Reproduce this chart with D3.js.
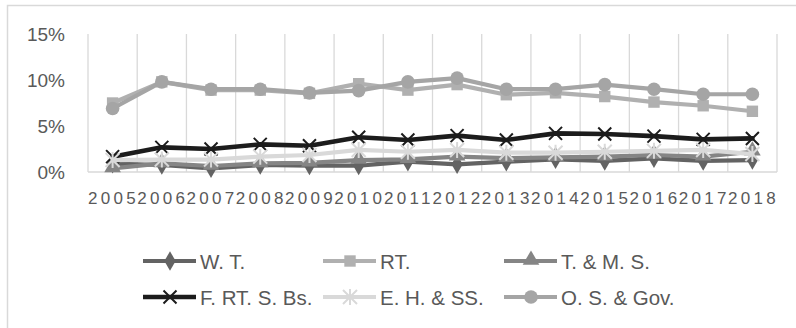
<!DOCTYPE html>
<html>
<head>
<meta charset="utf-8">
<script src="https://cdn.jsdelivr.net/npm/d3@7"></script>
<style>
  body { margin: 0; background: #fff; }
  svg text { font-family: "Liberation Sans", "DejaVu Sans", sans-serif; fill: #595959; }
</style>
</head>
<body>
<div id="chart"></div>
<script>
// categories and series (percent)
var years = ["2005","2006","2007","2008","2009","2010","2011","2012","2013","2014","2015","2016","2017","2018"];
var yTicks = [0, 5, 10, 15];

var wT     = [0.9, 0.76, 0.4, 0.76, 0.7, 0.7, 1.12, 0.83, 1.12, 1.38, 1.2, 1.49, 1.2, 1.3];
var rT     = [7.5, 9.8, 8.9, 8.9, 8.55, 9.6, 8.9, 9.5, 8.4, 8.6, 8.2, 7.6, 7.2, 6.6];
var tms    = [0.4, 0.94, 0.65, 0.94, 1.0, 1.3, 1.38, 1.67, 1.5, 1.6, 1.67, 1.85, 1.67, 2.2];
var frtsbs = [1.67, 2.68, 2.5, 3.0, 2.86, 3.77, 3.48, 3.95, 3.48, 4.2, 4.13, 3.9, 3.55, 3.65];
var ehss   = [1.3, 1.35, 1.35, 1.67, 1.85, 2.4, 2.2, 2.4, 2.1, 2.1, 2.2, 2.3, 2.4, 1.95];
var osgov  = [6.9, 9.8, 9.0, 9.0, 8.6, 8.85, 9.8, 10.2, 9.0, 9.0, 9.5, 9.0, 8.45, 8.45];

var series = [
  {name: "W. T.",         values: wT,     color: "#636363", marker: "diamond"},
  {name: "RT.",           values: rT,     color: "#b0b0b0", marker: "square"},
  {name: "T. & M. S.",    values: tms,    color: "#858585", marker: "triangle"},
  {name: "F. RT. S. Bs.", values: frtsbs, color: "#1c1c1c", marker: "x"},
  {name: "E. H. & SS.",   values: ehss,   color: "#d9d9d9", marker: "star"},
  {name: "O. S. & Gov.",  values: osgov,  color: "#a5a5a5", marker: "circle"}
];

var W = 796, H = 328;
var plot = {left: 88, right: 777, top: 34, bottom: 172};

var svg = d3.select("#chart").append("svg")
  .attr("width", W)
  .attr("height", H);

// chart border
svg.append("rect")
  .attr("x", 7.5).attr("y", 5.5)
  .attr("width", 800).attr("height", 330)
  .attr("fill", "none")
  .attr("stroke", "#d9d9d9")
  .attr("stroke-width", 1.5);

var x = d3.scaleBand().domain(years).range([plot.left, plot.right]);
var y = d3.scaleLinear().domain([0, 15]).range([plot.bottom, plot.top]);

// vertical gridlines at category boundaries
var bounds = years.map(function(d) { return x(d); }).concat([plot.right]);
svg.append("g").selectAll("line")
  .data(bounds)
  .enter().append("line")
  .attr("x1", function(d) { return d; })
  .attr("x2", function(d) { return d; })
  .attr("y1", plot.top)
  .attr("y2", plot.bottom)
  .attr("stroke", "#d9d9d9")
  .attr("stroke-width", 1.3);

// horizontal axis line
svg.append("line")
  .attr("x1", plot.left).attr("x2", plot.right)
  .attr("y1", plot.bottom).attr("y2", plot.bottom)
  .attr("stroke", "#d9d9d9")
  .attr("stroke-width", 1.5);

// y axis
var yAxis = d3.axisLeft(y).tickValues(yTicks).tickSize(0).tickPadding(0)
  .tickFormat(function(d) { return d + "%"; });
var gy = svg.append("g")
  .attr("transform", "translate(65,0)")
  .call(yAxis);
gy.select(".domain").remove();
gy.selectAll("text")
  .style("font-size", "19px")
  .style("fill", "#595959")
  .style("font-family", "Liberation Sans, sans-serif");

// x axis
var xAxis = d3.axisBottom(x).tickSize(0).tickPadding(0);
var gx = svg.append("g")
  .attr("transform", "translate(1,192)")
  .call(xAxis);
gx.select(".domain").remove();
gx.selectAll("text")
  .style("font-size", "17px")
  .style("letter-spacing", "3.3px")
  .style("fill", "#595959")
  .style("font-family", "Liberation Sans, sans-serif");

function cx(i) { return x(years[i]) + x.bandwidth() / 2; }

function drawMarker(g, type, color, px, py) {
  if (type === "diamond") {
    g.append("path").attr("d", d3.symbol(d3.symbolDiamond, 110)())
      .attr("transform", "translate(" + px + "," + py + ")")
      .attr("fill", color);
  } else if (type === "square") {
    g.append("path").attr("d", d3.symbol(d3.symbolSquare, 130)())
      .attr("transform", "translate(" + px + "," + py + ")")
      .attr("fill", color);
  } else if (type === "triangle") {
    g.append("path").attr("d", d3.symbol(d3.symbolTriangle, 120)())
      .attr("transform", "translate(" + px + "," + (py - 1) + ")")
      .attr("fill", color);
  } else if (type === "circle") {
    g.append("circle").attr("cx", px).attr("cy", py).attr("r", 6.8)
      .attr("fill", color);
  } else if (type === "x") {
    var s = 6.5;
    g.append("path")
      .attr("d", "M" + (px - s) + "," + (py - s) + "L" + (px + s) + "," + (py + s) +
                 "M" + (px - s) + "," + (py + s) + "L" + (px + s) + "," + (py - s))
      .attr("stroke", color).attr("stroke-width", 2).attr("fill", "none");
  } else if (type === "star") {
    var r = 7;
    g.append("path")
      .attr("d", "M" + (px - r) + "," + (py - r) + "L" + (px + r) + "," + (py + r) +
                 "M" + (px - r) + "," + (py + r) + "L" + (px + r) + "," + (py - r) +
                 "M" + px + "," + (py - r - 1) + "L" + px + "," + (py + r + 1))
      .attr("stroke", color).attr("stroke-width", 2).attr("fill", "none");
  }
}

var line = d3.line()
  .x(function(d, i) { return cx(i); })
  .y(function(d) { return y(d); });

series.forEach(function(s) {
  var g = svg.append("g");
  g.append("path")
    .attr("d", line(s.values))
    .attr("fill", "none")
    .attr("stroke", s.color)
    .attr("stroke-width", s.marker === "x" ? 4.6 : 4.2)
    .attr("stroke-linejoin", "round")
    .attr("stroke-linecap", "round");
  s.values.forEach(function(v, i) {
    drawMarker(g, s.marker, s.color, cx(i), y(v));
  });
});

// legend
var legX = [143, 323, 504];
var legY = [261, 297];
series.forEach(function(s, i) {
  var lx = legX[i % 3], ly = legY[Math.floor(i / 3)];
  var g = svg.append("g");
  g.append("line")
    .attr("x1", lx).attr("x2", lx + 53)
    .attr("y1", ly).attr("y2", ly)
    .attr("stroke", s.color)
    .attr("stroke-width", s.marker === "x" ? 4.6 : 4.2);
  drawMarker(g, s.marker, s.color, lx + 27, ly);
  g.append("text")
    .attr("x", lx + 57)
    .attr("y", ly + 7.5)
    .style("font-size", "20.5px")
    .text(s.name);
});
</script>
</body>
</html>
